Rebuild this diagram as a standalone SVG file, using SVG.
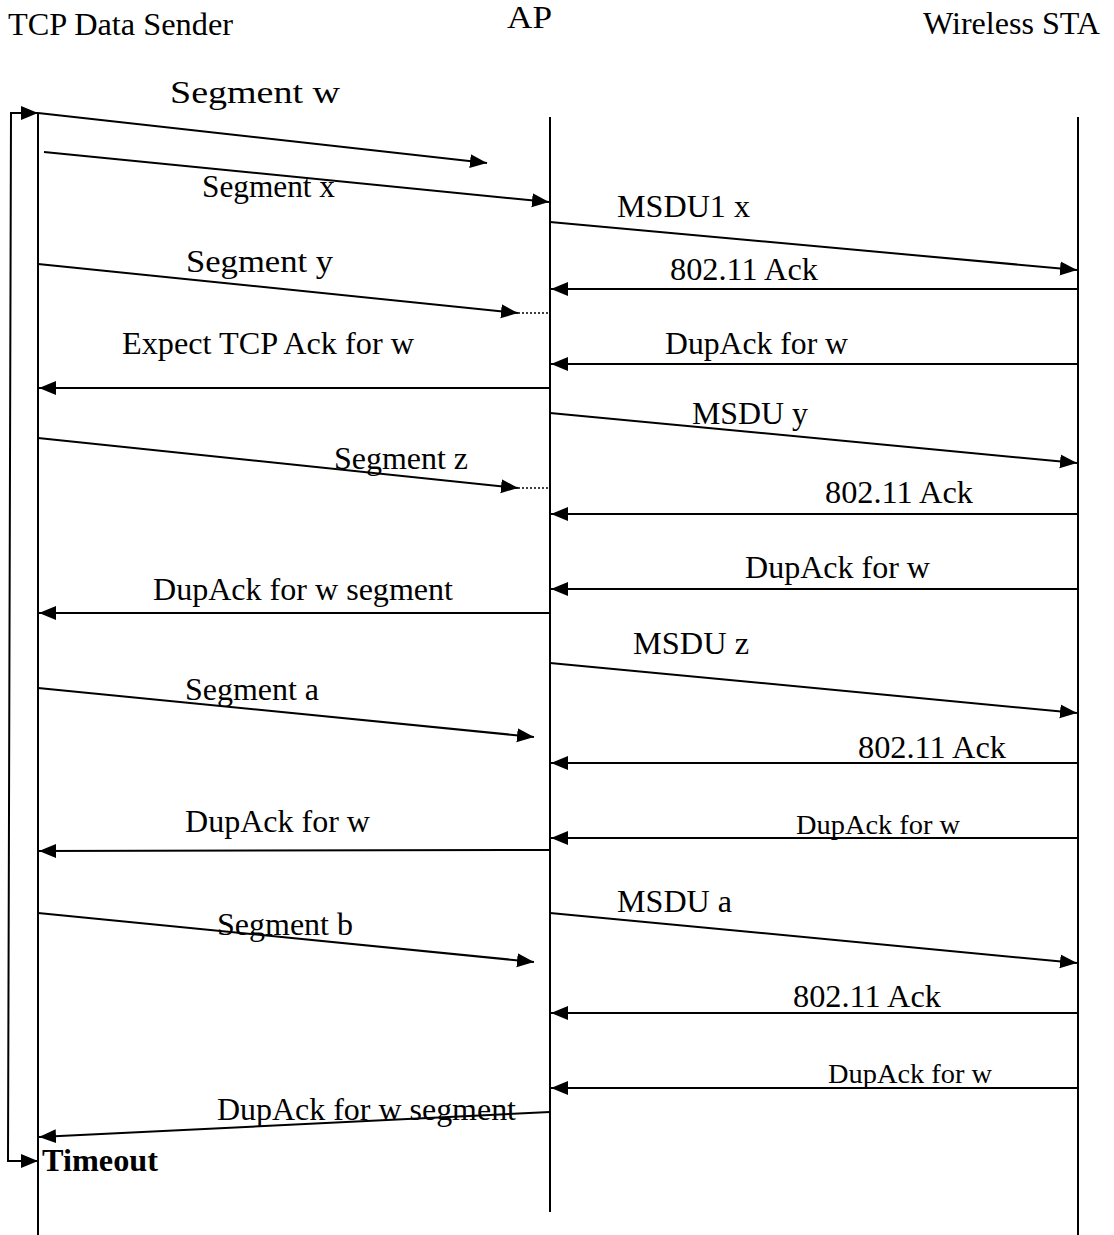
<svg xmlns="http://www.w3.org/2000/svg" width="1114" height="1235" viewBox="0 0 1114 1235">
<style>
text{font-family:"Liberation Serif","Times New Roman",serif;font-size:31px;fill:#000}
.s{font-size:27px}
.b{font-weight:bold}
.l{stroke:#000;stroke-width:2;fill:none}
.a{stroke:#000;stroke-width:2;fill:none;marker-end:url(#ah)}
.d{stroke:#000;stroke-width:1.5;stroke-dasharray:2 2;fill:none}
</style>
<defs>
<marker id="ah" markerUnits="userSpaceOnUse" markerWidth="18" markerHeight="16" viewBox="0 0 18 16" refX="17" refY="8" orient="auto">
<path d="M0,1 L17,8 L0,15 Z" fill="#000"/>
</marker>
</defs>
<rect width="1114" height="1235" fill="#fff"/>
<g id="sender">
<text x="8" y="35" textLength="225" lengthAdjust="spacingAndGlyphs">TCP Data Sender</text>
<line class="l" x1="38" y1="113" x2="38" y2="1235"/>
</g>
<g id="ap">
<text x="507" y="28" textLength="45" lengthAdjust="spacingAndGlyphs">AP</text>
<line class="l" x1="550" y1="117" x2="550" y2="1212"/>
</g>
<g id="sta">
<text x="923" y="34" textLength="177" lengthAdjust="spacingAndGlyphs">Wireless STA</text>
<line class="l" x1="1078" y1="117" x2="1078" y2="1235"/>
</g>
<g id="timeout">
<polyline class="l" points="38,113 11,113 8,1161 38,1161"/>
<line class="a" x1="20" y1="113" x2="38" y2="113"/>
<line class="a" x1="20" y1="1161" x2="38" y2="1161"/>
<text class="b" x="42" y="1171" textLength="116" lengthAdjust="spacingAndGlyphs">Timeout</text>
</g>
<g id="connectors">
<line class="a" x1="38" y1="113" x2="487" y2="163"/>
<line class="a" x1="44" y1="152" x2="549" y2="202"/>
<line class="a" x1="550" y1="222" x2="1077" y2="270"/>
<line class="a" x1="1078" y1="289" x2="551" y2="289"/>
<line class="a" x1="38" y1="264" x2="518" y2="313"/>
<line class="d" x1="518" y1="313" x2="549" y2="313"/>
<line class="a" x1="1078" y1="364" x2="551" y2="364"/>
<line class="a" x1="550" y1="388" x2="39" y2="388"/>
<line class="a" x1="550" y1="413" x2="1077" y2="463"/>
<line class="a" x1="38" y1="438" x2="518" y2="488"/>
<line class="d" x1="518" y1="488" x2="549" y2="488"/>
<line class="a" x1="1078" y1="514" x2="551" y2="514"/>
<line class="a" x1="1078" y1="589" x2="551" y2="589"/>
<line class="a" x1="550" y1="613" x2="39" y2="613"/>
<line class="a" x1="550" y1="663" x2="1077" y2="713"/>
<line class="a" x1="38" y1="688" x2="534" y2="737"/>
<line class="a" x1="1078" y1="763" x2="551" y2="763"/>
<line class="a" x1="1078" y1="838" x2="551" y2="838"/>
<line class="a" x1="550" y1="850" x2="39" y2="851"/>
<line class="a" x1="550" y1="913" x2="1077" y2="963"/>
<line class="a" x1="38" y1="913" x2="534" y2="962"/>
<line class="a" x1="1078" y1="1013" x2="551" y2="1013"/>
<line class="a" x1="1078" y1="1088" x2="551" y2="1088"/>
<line class="a" x1="550" y1="1112" x2="39" y2="1137"/>
</g>
<g id="labels">
<text x="170" y="103" textLength="170" lengthAdjust="spacingAndGlyphs">Segment w</text>
<text x="202" y="197" textLength="133" lengthAdjust="spacingAndGlyphs">Segment x</text>
<text x="617" y="217" textLength="133" lengthAdjust="spacingAndGlyphs">MSDU1 x</text>
<text x="670" y="280" textLength="148" lengthAdjust="spacingAndGlyphs">802.11 Ack</text>
<text x="186" y="272" textLength="147" lengthAdjust="spacingAndGlyphs">Segment y</text>
<text x="122" y="354" textLength="292" lengthAdjust="spacingAndGlyphs">Expect TCP Ack for w</text>
<text x="665" y="354" textLength="183" lengthAdjust="spacingAndGlyphs">DupAck for w</text>
<text x="692" y="424" textLength="116" lengthAdjust="spacingAndGlyphs">MSDU y</text>
<text x="334" y="469" textLength="134" lengthAdjust="spacingAndGlyphs">Segment z</text>
<text x="825" y="503" textLength="148" lengthAdjust="spacingAndGlyphs">802.11 Ack</text>
<text x="745" y="578" textLength="185" lengthAdjust="spacingAndGlyphs">DupAck for w</text>
<text x="153" y="600" textLength="300" lengthAdjust="spacingAndGlyphs">DupAck for w segment</text>
<text x="633" y="654" textLength="116" lengthAdjust="spacingAndGlyphs">MSDU z</text>
<text x="185" y="700" textLength="134" lengthAdjust="spacingAndGlyphs">Segment a</text>
<text x="858" y="758" textLength="148" lengthAdjust="spacingAndGlyphs">802.11 Ack</text>
<text x="185" y="832" textLength="185" lengthAdjust="spacingAndGlyphs">DupAck for w</text>
<text class="s" x="796" y="834" textLength="164" lengthAdjust="spacingAndGlyphs">DupAck for w</text>
<text x="617" y="912" textLength="115" lengthAdjust="spacingAndGlyphs">MSDU a</text>
<text x="217" y="935" textLength="136" lengthAdjust="spacingAndGlyphs">Segment b</text>
<text x="793" y="1007" textLength="148" lengthAdjust="spacingAndGlyphs">802.11 Ack</text>
<text class="s" x="828" y="1083" textLength="164" lengthAdjust="spacingAndGlyphs">DupAck for w</text>
<text x="217" y="1120" textLength="299" lengthAdjust="spacingAndGlyphs">DupAck for w segment</text>
</g>
</svg>
